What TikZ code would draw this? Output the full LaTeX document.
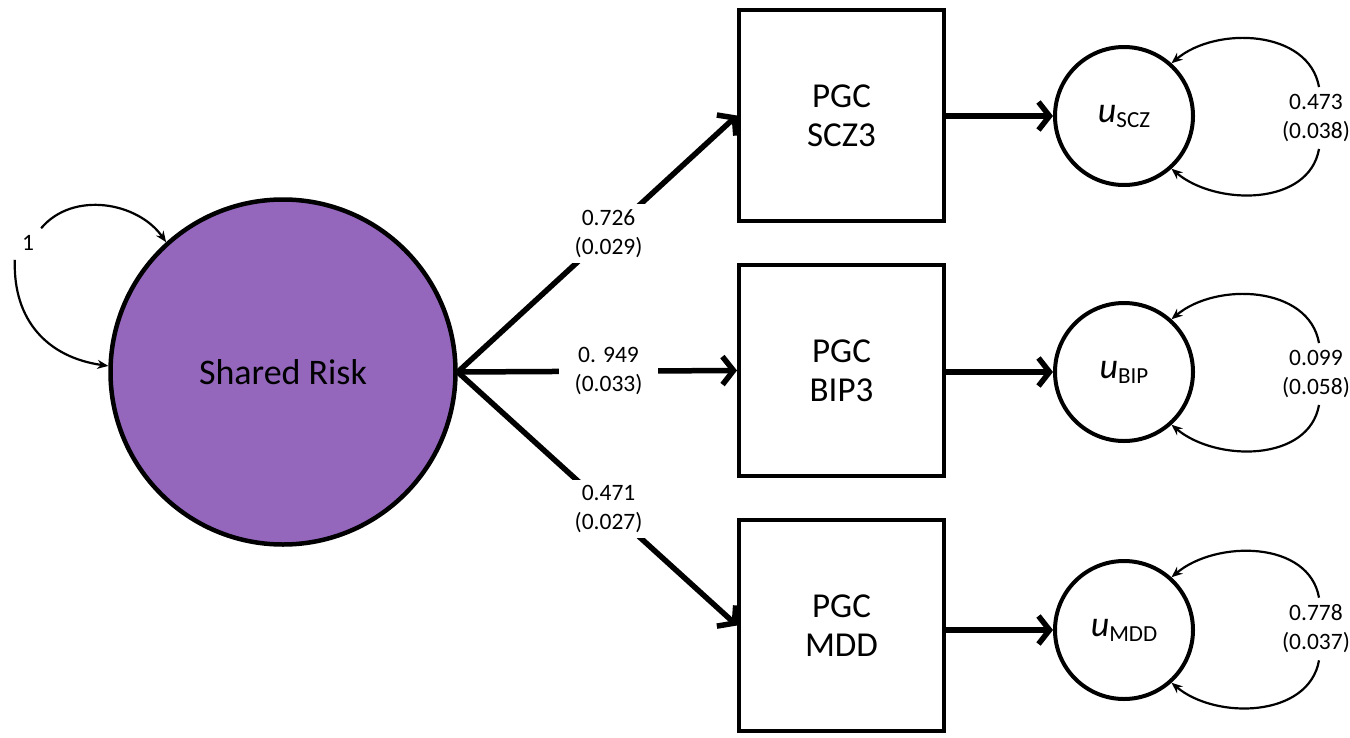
\documentclass[tikz,border=0pt]{standalone}
\usepackage{fontspec}
\setmainfont{Carlito}
\usetikzlibrary{arrows.meta}
\definecolor{srpurple}{RGB}{148,103,189}
\begin{document}
\begin{tikzpicture}[x=1pt,y=1pt,
  mainarr/.style={line width=5.5pt, -{Straight Barb[length=11pt,width=28pt]}},
  looparr/.style={line width=2.2pt, -{Stealth[length=11pt,width=9pt]}},
  coef/.style={font=\fontsize{23.5}{29}\selectfont, align=center, inner sep=3pt},
  coefw/.style={coef, fill=white, inner xsep=16pt, inner ysep=5pt},
  obs/.style={draw, line width=4pt, minimum width=205pt, minimum height=211pt, font=\fontsize{35}{39}\selectfont, align=center},
  res/.style={draw, circle, line width=4pt, minimum size=138pt, inner sep=0pt},
  ]
\useasboundingbox (0,0) rectangle (1350,-737);
% latent
\node[circle, draw, line width=4.5pt, fill=srpurple, minimum size=345pt, font=\fontsize{36}{40}\selectfont] (sr) at (283,-372) {Shared Risk};
% observed
\node[obs] (scz) at (841.5,-115.5) {PGC\\SCZ3};
\node[obs] (bip) at (841.5,-370.5) {PGC\\BIP3};
\node[obs] (mdd) at (841.5,-625.5) {PGC\\MDD};
% residuals
\node[res] (uscz) at (1124,-116) {\fontsize{36}{38}\selectfont\itshape u\raisebox{-5pt}{\fontsize{23}{26}\selectfont\upshape SCZ}};
\node[res] (ubip) at (1124,-372) {\fontsize{36}{38}\selectfont\itshape u\raisebox{-5pt}{\fontsize{23}{26}\selectfont\upshape BIP}};
\node[res] (umdd) at (1124,-630) {\fontsize{36}{38}\selectfont\itshape u\raisebox{-5pt}{\fontsize{23}{26}\selectfont\upshape MDD}};
% loadings
\draw[mainarr] (sr.east) -- (scz.west) node[coefw, pos=0.54] {0.726\\(0.029)};
\draw[mainarr] (sr.east) -- (bip.west) node[coefw, pos=0.54] {0. 949\\(0.033)};
\draw[mainarr] (sr.east) -- (mdd.west) node[coefw, pos=0.54] {0.471\\(0.027)};
% observed -> residual
\draw[mainarr] (scz.east |- uscz.west) -- (uscz.west);
\draw[mainarr] (bip.east |- ubip.west) -- (ubip.west);
\draw[mainarr] (mdd.east |- umdd.west) -- (umdd.west);
% variance loops of residuals
\node[coef] (lscz) at (1316,-118) {0.473\\(0.038)};
\node[coef] (lbip) at (1316,-374) {0.099\\(0.058)};
\node[coef] (lmdd) at (1316,-629) {0.778\\(0.037)};
\foreach \u/\l in {uscz/lscz, ubip/lbip, umdd/lmdd}{
  \draw[looparr] ([xshift=3pt,yshift=4pt]\l.north) to[out=100,in=40] (\u.48);
  \draw[looparr] ([xshift=3pt,yshift=-4pt]\l.south) to[out=-100,in=-40] (\u.-48);
}
% latent variance loop
\node[coef] (lone) at (28,-243) {1};
\draw[looparr] ([xshift=4pt,yshift=4pt]lone.north east) to[out=50,in=125] (sr.132);
\draw[looparr] ([xshift=-4pt,yshift=-6pt]lone.south west) to[out=-92,in=172,looseness=1.1] (sr.178);
\end{tikzpicture}
\end{document}
